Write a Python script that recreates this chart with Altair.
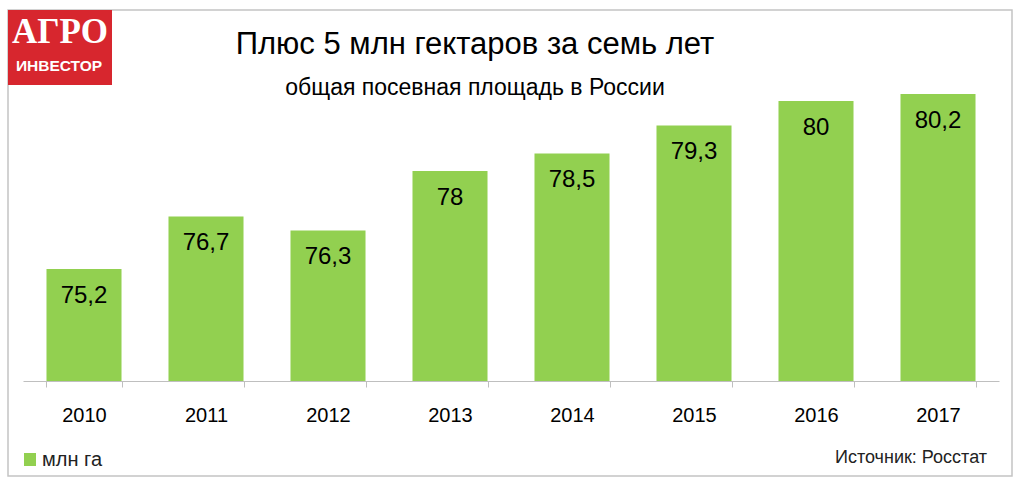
import altair as alt
import pandas as pd

years = ["2010", "2011", "2012", "2013", "2014", "2015", "2016", "2017"]
values = [75.2, 76.7, 76.3, 78.0, 78.5, 79.3, 80.0, 80.2]
labels = [f"{v:g}".replace(".", ",") for v in values]
base_value = 72

title_text = "Плюс 5 млн гектаров за семь лет"
subtitle_text = "общая посевная площадь в России"
legend_text = "млн га"
source_text = "Источник: Росстат"
logo_top = "АГРО"
logo_bottom = "ИНВЕСТОР"

GREEN = "#92D050"
FONT = "Liberation Sans"

df = pd.DataFrame({"year": years, "value": values, "label": labels})
one = pd.DataFrame({"k": [0]})

xenc = alt.X(
    "year:N",
    scale=alt.Scale(paddingInner=0.385, paddingOuter=0.1925),
    axis=alt.Axis(
        title=None, labelAngle=0, labelFontSize=20, labelFont=FONT,
        labelColor="#000000", labelPadding=18, tickSize=6, tickBand="extent",
        domainColor="#bfbfbf", tickColor="#bfbfbf", grid=False,
    ),
)
yscale = alt.Scale(domain=[base_value, 81.17], nice=False, zero=False)

bars = alt.Chart(df).mark_bar(color=GREEN).encode(
    x=xenc,
    y=alt.Y("value:Q", scale=yscale, axis=None),
    y2=alt.datum(base_value),
)
bar_text = alt.Chart(df).mark_text(
    baseline="middle", dy=27, fontSize=24, font=FONT, color="#000000"
).encode(
    x=alt.X("year:N"),
    y=alt.Y("value:Q"),
    text="label:N",
)

frame = alt.Chart(one).mark_rect(fill=None, stroke="#c4c4c4", strokeWidth=1.5).encode(
    x=alt.value(-15), x2=alt.value(989), y=alt.value(-50), y2=alt.value(416)
)
logo_box = alt.Chart(one).mark_rect(fill="#D7262E").encode(
    x=alt.value(-15), x2=alt.value(89), y=alt.value(-50), y2=alt.value(25)
)
logo1 = alt.Chart(one).mark_text(
    font="Liberation Serif", fontWeight="bold", fontSize=35, color="white",
    baseline="middle", align="center"
).encode(x=alt.value(37), y=alt.value(-28), text=alt.value(logo_top))
logo2 = alt.Chart(one).mark_text(
    font=FONT, fontWeight="bold",
    fontSize=15.5, color="white", baseline="middle", align="center"
).encode(x=alt.value(36), y=alt.value(6), text=alt.value(logo_bottom))

title = alt.Chart(one).mark_text(
    font=FONT, fontSize=31, color="#000000", baseline="middle", align="center"
).encode(x=alt.value(452), y=alt.value(-15), text=alt.value(title_text))
subtitle = alt.Chart(one).mark_text(
    font=FONT, fontSize=23, color="#000000", baseline="middle", align="center"
).encode(x=alt.value(452), y=alt.value(28), text=alt.value(subtitle_text))

leg_sq = alt.Chart(one).mark_rect(fill=GREEN).encode(
    x=alt.value(1), x2=alt.value(13), y=alt.value(393), y2=alt.value(406)
)
leg_txt = alt.Chart(one).mark_text(
    font=FONT, fontSize=20, color="#222222", baseline="middle", align="left"
).encode(x=alt.value(19), y=alt.value(400), text=alt.value(legend_text))
src = alt.Chart(one).mark_text(
    font=FONT, fontSize=18, color="#222222", baseline="middle", align="right"
).encode(x=alt.value(964), y=alt.value(398), text=alt.value(source_text))

chart = alt.layer(
    frame, bars, bar_text, logo_box, logo1, logo2, title, subtitle, leg_sq, leg_txt, src
).properties(
    width=976, height=321,
    autosize=alt.AutoSizeParams(type="none"),
    padding={"left": 23, "top": 60, "right": 25, "bottom": 106},
    background="white",
).configure_view(stroke=None)

chart.save("out.html", embed_options={"renderer": "svg", "actions": False})
